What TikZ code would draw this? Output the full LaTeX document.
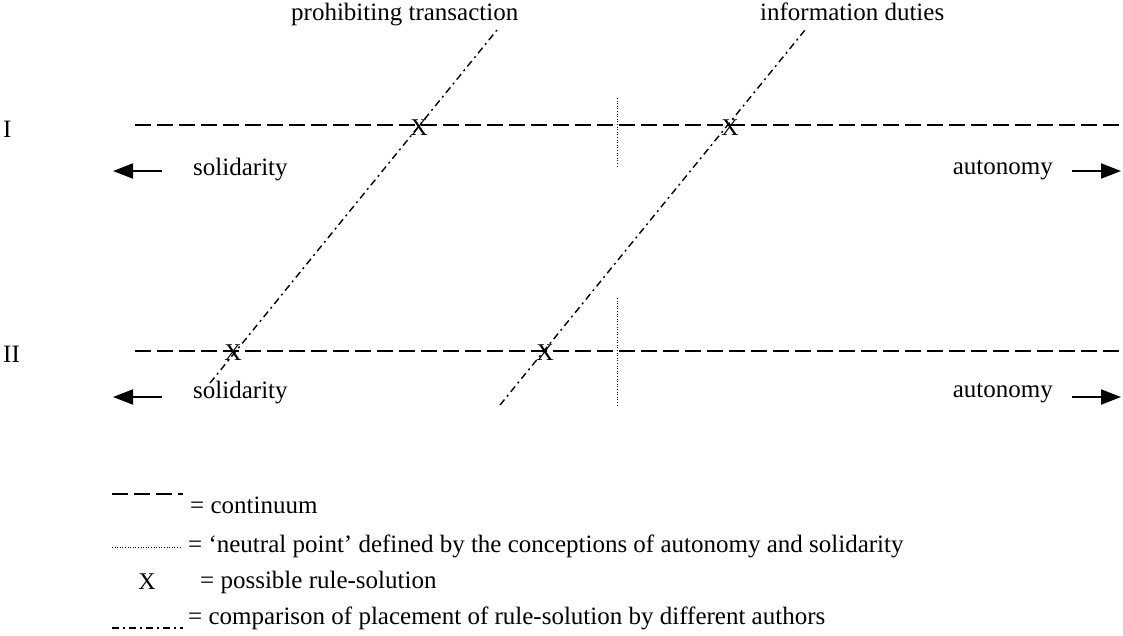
\documentclass[tikz,border=0pt]{standalone}
\usepackage{fontspec}
\setmainfont{Liberation Serif}
\usetikzlibrary{arrows.meta}
\begin{document}
\begin{tikzpicture}[x=1pt,y=-1pt,
  continuum/.style={line width=1.8pt, dash pattern=on 16pt off 6pt},
  neutral/.style={line width=1pt, dash pattern=on 1pt off 1.6pt},
  compar/.style={line width=1.4pt, dash pattern=on 7pt off 4pt on 2pt off 4pt},
  lbl/.style={font=\fontsize{25}{29}\selectfont, inner sep=0pt},
  xmark/.style={font=\fontsize{24}{28}\selectfont, inner sep=0pt},
  arr/.style={line width=2pt, -{Triangle[length=20pt,width=15pt]}}]
\useasboundingbox (0,0) rectangle (1123,635);
% continua
\coordinate (Il) at (135,125); \coordinate (Ir) at (1123,125);
\coordinate (IIl) at (135,351); \coordinate (IIr) at (1123,351);
\draw[continuum] (Il) -- (Ir);
\draw[continuum] (IIl) -- (IIr);
% neutral points
\coordinate (NIt) at (617,98); \coordinate (NIb) at (617,167);
\coordinate (NIIt) at (617,298); \coordinate (NIIb) at (617,407);
\draw[neutral] (NIt) -- (NIb);
\draw[neutral] (NIIt) -- (NIIb);
% comparison lines
\coordinate (Ab) at (210,383); \coordinate (At) at (497,30);
\coordinate (Bb) at (500,405); \coordinate (Bt) at (805,30);
\draw[compar] (Ab) -- (At);
\draw[compar] (Bb) -- (Bt);
% X marks
\node[xmark] (XI1) at (419,128) {X};
\node[xmark] (XI2) at (730,128) {X};
\node[xmark] (XII1) at (233,353) {X};
\node[xmark] (XII2) at (545,353) {X};
% top labels
\node[lbl, anchor=base west] (lp) at (291,20) {prohibiting transaction};
\node[lbl, anchor=base west] (li) at (760,20) {information duties};
% row labels
\node[lbl, anchor=base west] (rI) at (3,137) {I};
\node[lbl, anchor=base west] (rII) at (3,362) {II};
% arrows and pole labels
\coordinate (aIls) at (162,171); \coordinate (aIle) at (113,171);
\coordinate (aIrs) at (1072,171); \coordinate (aIre) at (1121,171);
\coordinate (aIIls) at (162,397); \coordinate (aIIle) at (113,397);
\coordinate (aIIrs) at (1072,397); \coordinate (aIIre) at (1121,397);
\draw[arr] (aIls) -- (aIle);
\draw[arr] (aIrs) -- (aIre);
\draw[arr] (aIIls) -- (aIIle);
\draw[arr] (aIIrs) -- (aIIre);
\node[lbl, anchor=west] (sI) at (193,170) {solidarity};
\node[lbl, anchor=east] (auI) at (1053,170) {autonomy};
\node[lbl, anchor=west] (sII) at (193,393) {solidarity};
\node[lbl, anchor=east] (auII) at (1053,393) {autonomy};
% legend
\coordinate (L1a) at (112,494); \coordinate (L1b) at (183,494);
\draw[continuum] (L1a) -- (L1b);
\node[lbl, anchor=base west] (t1) at (190,513) {= continuum};
\coordinate (L2a) at (112,547); \coordinate (L2b) at (182,547);
\draw[neutral] (L2a) -- (L2b);
\node[lbl, anchor=base west] (t2) at (188,552) {= ‘neutral point’ defined by the conceptions of autonomy and solidarity};
\node[xmark] (LX) at (147,582) {X};
\node[lbl, anchor=base west] (t3) at (200,588) {= possible rule-solution};
\coordinate (L4a) at (112,628); \coordinate (L4b) at (183,628);
\draw[compar] (L4a) -- (L4b);
\node[lbl, anchor=base west] (t4) at (188,624) {= comparison of placement of rule-solution by different authors};
\end{tikzpicture}
\end{document}
